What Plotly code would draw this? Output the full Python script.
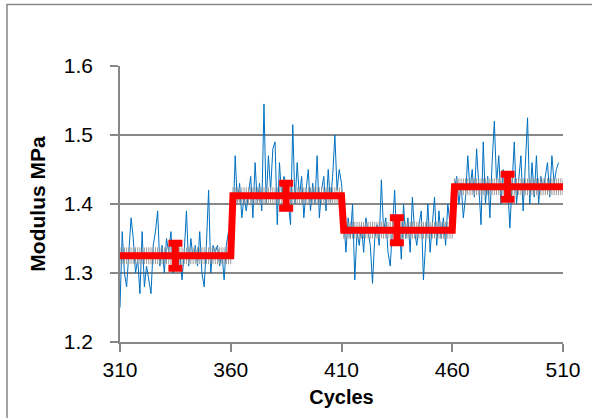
import plotly.graph_objects as go

# ---- data ----
cycles_blue = list(range(310, 509))
modulus_blue = [
    # 310-360
    1.25, 1.36, 1.30, 1.28, 1.33, 1.38, 1.35, 1.30, 1.32, 1.27,
    1.36, 1.28, 1.31, 1.29, 1.27, 1.34, 1.36, 1.39, 1.31, 1.34,
    1.30, 1.35, 1.33, 1.36, 1.30, 1.34, 1.31, 1.33, 1.29, 1.33,
    1.39, 1.31, 1.35, 1.32, 1.34, 1.31, 1.36, 1.30, 1.28, 1.34,
    1.42, 1.30, 1.34, 1.33, 1.34, 1.31, 1.33, 1.29, 1.34, 1.36,
    1.32,
    # 361-410
    1.37, 1.47, 1.40, 1.43, 1.38, 1.41, 1.39, 1.42, 1.44, 1.38,
    1.46, 1.40, 1.43, 1.39, 1.545, 1.40, 1.47, 1.42, 1.48, 1.49,
    1.37, 1.46, 1.41, 1.44, 1.43, 1.40, 1.37, 1.515, 1.40, 1.46,
    1.41, 1.44, 1.38, 1.42, 1.45, 1.39, 1.43, 1.40, 1.47, 1.38,
    1.42, 1.44, 1.39, 1.45, 1.40, 1.44, 1.50, 1.42, 1.45, 1.43,
    # 411-460
    1.37, 1.33, 1.38, 1.35, 1.40, 1.29, 1.36, 1.34, 1.37, 1.33,
    1.38, 1.36, 1.34, 1.285, 1.35, 1.37, 1.34, 1.435, 1.36, 1.38,
    1.33, 1.31, 1.36, 1.42, 1.34, 1.38, 1.32, 1.40, 1.35, 1.38,
    1.33, 1.41, 1.36, 1.34, 1.37, 1.39, 1.29, 1.35, 1.40, 1.33,
    1.37, 1.41, 1.34, 1.39, 1.35, 1.38, 1.34, 1.40, 1.37, 1.39,
    # 461-508
    1.42, 1.44, 1.40, 1.43, 1.38, 1.41, 1.47, 1.42, 1.45, 1.41,
    1.48, 1.43, 1.37, 1.49, 1.40, 1.44, 1.38, 1.46, 1.52, 1.43,
    1.47, 1.40, 1.45, 1.41, 1.43, 1.365, 1.42, 1.49, 1.40, 1.44,
    1.47, 1.39, 1.45, 1.525, 1.40, 1.46, 1.41, 1.47, 1.40, 1.44,
    1.42, 1.44, 1.46, 1.41, 1.47, 1.43, 1.45, 1.46,
]

step_starts = [310, 361, 411, 461]
step_ends = [360, 410, 460, 510]
step_levels = [1.325, 1.412, 1.362, 1.425]

mid_cycles = [335, 385, 435, 485]
mid_means = [1.325, 1.412, 1.362, 1.425]
mid_errors = [0.018, 0.018, 0.018, 0.018]

x_ticks = [310, 360, 410, 460, 510]
y_ticks = [1.2, 1.3, 1.4, 1.5, 1.6]

# build the step series from the levels
red_x, red_y = [], []
for s, e, lv in zip(step_starts, step_ends, step_levels):
    for c in range(s, e + 1):
        red_x.append(c)
        red_y.append(lv)

GREY = "#878787"
HATCH = "#9a9a9a"
RED = "#FF0000"
BLUE = "#0070C0"
FONT = "Liberation Sans"

fig = go.Figure()

# blue noisy data
fig.add_trace(go.Scatter(
    x=cycles_blue, y=modulus_blue, mode="lines",
    line=dict(color=BLUE, width=1),
    showlegend=False,
))

# grey hatch on step line
fig.add_trace(go.Scatter(
    x=red_x, y=red_y, mode="markers",
    marker=dict(symbol="line-ns", size=12, line=dict(color=HATCH, width=1)),
    showlegend=False, hoverinfo="skip",
))

# red step line
fig.add_trace(go.Scatter(
    x=red_x, y=red_y, mode="lines",
    line=dict(color=RED, width=7),
    showlegend=False,
))

# I-beam error bars
fig.add_trace(go.Scatter(
    x=mid_cycles, y=mid_means, mode="markers",
    marker=dict(size=1, color=RED, opacity=0),
    error_y=dict(type="data", array=mid_errors, visible=True,
                 color=RED, thickness=7, width=7),
    showlegend=False, hoverinfo="skip",
))

axis_common = dict(
    showline=True, linecolor=GREY, linewidth=1.5,
    ticks="outside", ticklen=8, tickcolor=GREY, tickwidth=1.5,
    tickfont=dict(family=FONT, size=21, color="black"),
    zeroline=False,
)

fig.update_xaxes(
    range=[310, 510], tickvals=x_ticks, ticktext=[str(v) for v in x_ticks],
    showgrid=False,
    title=dict(text="<b>Cycles</b>", font=dict(family=FONT, size=20, color="black"), standoff=10),
    **axis_common,
)
fig.update_yaxes(
    range=[1.2, 1.6], tickvals=y_ticks, ticktext=[f"{v:.1f}" for v in y_ticks],
    showgrid=True, gridcolor=GREY, gridwidth=1.5,
    ticklabelstandoff=13,
    title=dict(text="<b>Modulus MPa</b>", font=dict(family=FONT, size=21, color="black"), standoff=12),
    **axis_common,
)

# outer chart border
fig.add_shape(type="rect", xref="paper", yref="paper",
              x0=(7 - 120) / 443, x1=1.6, y0=-0.6, y1=(342 - 4.5) / 276,
              line=dict(color=GREY, width=1.5), layer="below")

fig.update_layout(
    width=592, height=418,
    margin=dict(l=120, r=29, t=66, b=76),
    paper_bgcolor="white", plot_bgcolor="white",
    font=dict(family=FONT),
)

fig.write_html("out.html")
